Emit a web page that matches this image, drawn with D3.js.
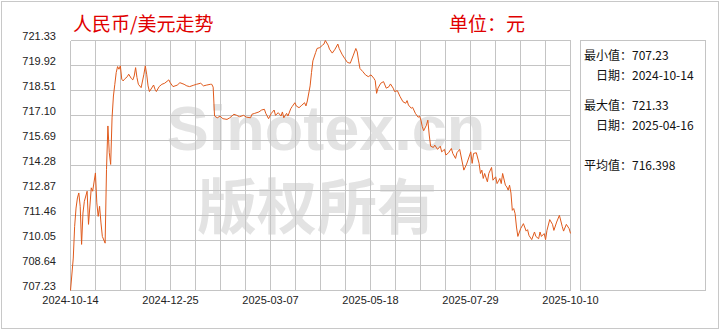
<!DOCTYPE html>
<html>
<head>
<meta charset="utf-8">
<script src="https://cdn.jsdelivr.net/npm/d3@7"></script>
<style>
	html, body { margin: 0; padding: 0; background: #fff; }
	svg { display: block; }
	.cn { font-family: "Noto Sans CJK SC", "Noto Sans", sans-serif; }
	.num { font-family: "Liberation Sans", Arial, sans-serif; }
</style>
</head>
<body>
<div id="chart"></div>
<script>
// series: day offsets from the first date, and the rate (x100)
const startDate = "2024-10-14";
const dayOffsets = [
	0, 2, 3, 4, 5, 6, 7, 8, 9, 10, 12, 13, 15, 16, 18, 19, 20, 21, 22, 23,
	25, 26, 27, 28, 29, 30, 31, 32, 33, 34, 35, 36, 37, 38, 39, 41, 42, 44, 45, 46,
	47, 48, 49, 51, 53, 54, 55, 56, 57, 60, 61, 62, 64, 66, 68, 71, 72, 74, 77, 79,
	82, 84, 86, 89, 91, 94, 96, 98, 101, 102, 103, 104, 106, 108, 110, 113, 115, 118, 120, 122,
	125, 127, 130, 131, 133, 136, 138, 140, 141, 143, 145, 147, 148, 150, 152, 153, 154, 156, 157, 159,
	160, 162, 163, 165, 167, 169, 170, 171, 173, 174, 175, 177, 178, 180, 182, 183, 184, 186, 187, 189,
	191, 193, 194, 196, 198, 200, 202, 204, 206, 207, 208, 209, 211, 213, 215, 217, 219, 220, 221, 222,
	224, 226, 228, 230, 231, 233, 234, 236, 238, 240, 242, 243, 244, 246, 247, 249, 251, 252, 253, 254,
	255, 257, 258, 259, 260, 262, 263, 265, 267, 268, 270, 271, 273, 275, 276, 278, 279, 281, 284, 286,
	289, 290, 291, 293, 295, 296, 297, 298, 299, 301, 302, 304, 305, 307, 308, 310, 311, 312, 314, 315,
	316, 317, 318, 319, 320, 321, 322, 323, 325, 327, 329, 330, 331, 333, 335, 336, 338, 339, 340, 342,
	343, 344, 346, 348, 349, 351, 353, 355, 356, 358, 360, 361
];
const rates = [
	707.23, 709.06, 710.85, 711.88, 712.45, 712.73, 711.98, 709.83, 711.60, 712.26, 712.83, 710.96, 713.02, 712.83, 713.86, 712.17, 711.41, 711.98, 711.04, 710.28,
	709.90, 714.06, 716.51, 715.00, 714.34, 716.97, 718.20, 718.86, 719.52, 719.86, 719.71, 719.90, 719.15, 719.05, 719.15, 719.29, 719.43, 719.18, 719.11, 719.33,
	719.80, 719.24, 718.86, 718.67, 719.43, 719.90, 719.43, 718.77, 718.45, 718.82, 718.58, 718.45, 718.73, 718.86, 718.92, 719.11, 718.95, 718.73, 718.81, 718.95,
	718.86, 718.77, 718.73, 718.81, 718.86, 718.92, 718.77, 718.81, 718.86, 718.86, 718.70, 717.07, 716.97, 717.07, 716.92, 716.88, 716.97, 717.17, 717.11, 717.03,
	717.11, 717.01, 716.97, 717.17, 717.22, 717.30, 717.41, 717.45, 717.22, 716.92, 717.22, 717.41, 717.11, 717.26, 717.07, 717.30, 716.97, 717.22, 717.07, 717.48,
	717.60, 717.82, 717.64, 717.54, 717.68, 717.82, 717.64, 717.92, 718.77, 719.52, 720.18, 720.65, 720.88, 720.93, 721.07, 721.13, 721.33, 721.07, 720.84, 720.62,
	720.84, 721.13, 720.88, 720.56, 720.31, 720.09, 720.05, 720.46, 720.88, 720.69, 720.18, 719.75, 719.58, 719.39, 719.29, 719.39, 719.20, 719.07, 718.35, 718.64,
	718.92, 719.01, 718.64, 718.73, 718.88, 718.64, 718.45, 718.50, 718.16, 717.88, 717.79, 717.94, 717.69, 717.51, 717.56, 717.22, 717.00, 717.07, 716.84, 716.47,
	716.24, 716.56, 716.84, 716.00, 715.37, 715.30, 715.43, 715.19, 715.37, 715.05, 715.19, 714.87, 715.00, 715.24, 714.96, 714.68, 715.00, 715.19, 714.02, 714.36,
	715.05, 714.40, 714.96, 715.00, 714.40, 713.83, 714.02, 713.55, 713.83, 713.36, 713.83, 714.17, 713.45, 713.64, 713.26, 713.55, 713.26, 713.83, 713.17, 713.07,
	712.89, 713.17, 712.73, 711.75, 711.85, 711.57, 710.81, 710.28, 710.72, 711.00, 710.58, 710.66, 710.34, 710.10, 710.53, 710.28, 710.15, 710.53, 710.28, 710.44,
	710.10, 710.62, 711.23, 710.96, 710.62, 711.09, 711.47, 710.85, 710.58, 710.96, 710.72, 710.45
];

const yTicks = [721.33, 719.92, 718.51, 717.10, 715.69, 714.28, 712.87, 711.46, 710.05, 708.64, 707.23];
const xTickLabels = ["2024-10-14", "2024-12-25", "2025-03-07", "2025-05-18", "2025-07-29", "2025-10-10"];

const titleText = "人民币/美元走势";
const unitText = "单位：元";
const statLabels = ["最小值：", "日期：", "最大值：", "日期：", "平均值："];
const statValues = ["707.23", "2024-10-14", "721.33", "2025-04-16", "716.398"];

const W = 720, H = 330;
const plot = { left: 70.5, right: 570.5, top: 40.5, bottom: 290.5 };
const lineColor = "#e05a1c";
const gridColor = "#c4c4c4";
const red = "#e00000";

const parse = d3.timeParse("%Y-%m-%d");
const t0 = parse(startDate);
const t1 = parse(xTickLabels[xTickLabels.length - 1]);

const data = dayOffsets.map((d, i) => ({ date: d3.timeDay.offset(t0, d), value: rates[i] }));

const x = d3.scaleTime().domain([t0, t1]).range([plot.left, plot.right]);
const y = d3.scaleLinear().domain([yTicks[yTicks.length - 1], yTicks[0]]).range([plot.bottom, plot.top]);

const svg = d3.select("#chart").append("svg")
	.attr("width", W)
	.attr("height", H);

// outer frame
svg.append("rect")
	.attr("x", 1.5).attr("y", 1.5)
	.attr("width", W - 3).attr("height", H - 3)
	.attr("fill", "#fff")
	.attr("stroke", "#c8c8c8");

// watermark
const wm = svg.append("g").attr("fill", "#e3e3e3");
wm.append("text")
	.attr("x", 326).attr("y", 150)
	.attr("text-anchor", "middle")
	.attr("font-family", "'Liberation Sans', Arial, sans-serif")
	.attr("font-weight", "bold")
	.attr("font-size", 63)
	.text("Sinotex.cn");
wm.append("text")
	.attr("class", "cn")
	.attr("x", 317).attr("y", 229)
	.attr("text-anchor", "middle")
	.attr("font-weight", "bold")
	.attr("font-size", 60)
	.text("版权所有");

// titles
svg.append("text")
	.attr("class", "cn")
	.attr("x", 73).attr("y", 31)
	.attr("fill", red)
	.attr("font-size", 19)
	.text(titleText);
svg.append("text")
	.attr("class", "cn")
	.attr("x", 449).attr("y", 31)
	.attr("fill", red)
	.attr("font-size", 19)
	.text(unitText);

// grid: 20 columns across the date range, one row per y tick
const nCols = 20;
const colDates = d3.range(nCols + 1).map(i => new Date(+t0 + (t1 - t0) * i / nCols));
const grid = svg.append("g").attr("stroke", gridColor).attr("shape-rendering", "crispEdges");
grid.selectAll("line.v")
	.data(colDates)
	.join("line")
	.attr("class", "v")
	.attr("x1", d => Math.round(x(d) - 0.5) + 0.5)
	.attr("x2", d => Math.round(x(d) - 0.5) + 0.5)
	.attr("y1", plot.top).attr("y2", plot.bottom);
grid.selectAll("line.h")
	.data(yTicks)
	.join("line")
	.attr("class", "h")
	.attr("x1", plot.left).attr("x2", plot.right)
	.attr("y1", d => Math.round(y(d) - 0.5) + 0.5)
	.attr("y2", d => Math.round(y(d) - 0.5) + 0.5);

// y labels sit a little above their grid line
svg.append("g")
	.attr("class", "num")
	.attr("font-size", 11)
	.attr("fill", "#222")
	.selectAll("text")
	.data(yTicks)
	.join("text")
	.attr("x", 56)
	.attr("y", d => y(d) - 4)
	.attr("dy", "0.35em")
	.attr("text-anchor", "end")
	.text(d => d3.format(".2f")(d));

// x labels, every 4th grid column
svg.append("g")
	.attr("class", "num")
	.attr("font-size", 11)
	.attr("fill", "#222")
	.selectAll("text")
	.data(xTickLabels)
	.join("text")
	.attr("x", (d, i) => x(colDates[i * 4]))
	.attr("y", 304)
	.attr("text-anchor", "middle")
	.text(d => d);

// the series
const line = d3.line()
	.x(d => x(d.date))
	.y(d => y(d.value));

svg.append("path")
	.datum(data)
	.attr("fill", "none")
	.attr("stroke", lineColor)
	.attr("stroke-width", 1)
	.attr("stroke-linejoin", "round")
	.attr("d", line);

// side panel with stats
svg.append("rect")
	.attr("x", 580.5).attr("y", plot.top)
	.attr("width", 125).attr("height", plot.bottom - plot.top)
	.attr("fill", "none")
	.attr("stroke", gridColor);

const statY = [60, 80, 110, 130, 170];
const stats = svg.append("g")
	.attr("class", "cn")
	.attr("font-size", 12)
	.attr("fill", "#111");
stats.selectAll("text.lab")
	.data(statLabels)
	.join("text")
	.attr("class", "lab")
	.attr("x", 632)
	.attr("y", (d, i) => statY[i])
	.attr("text-anchor", "end")
	.text(d => d);
stats.selectAll("text.val")
	.data(statValues)
	.join("text")
	.attr("class", "val")
	.attr("x", 632)
	.attr("y", (d, i) => statY[i])
	.text(d => d);
</script>
</body>
</html>
